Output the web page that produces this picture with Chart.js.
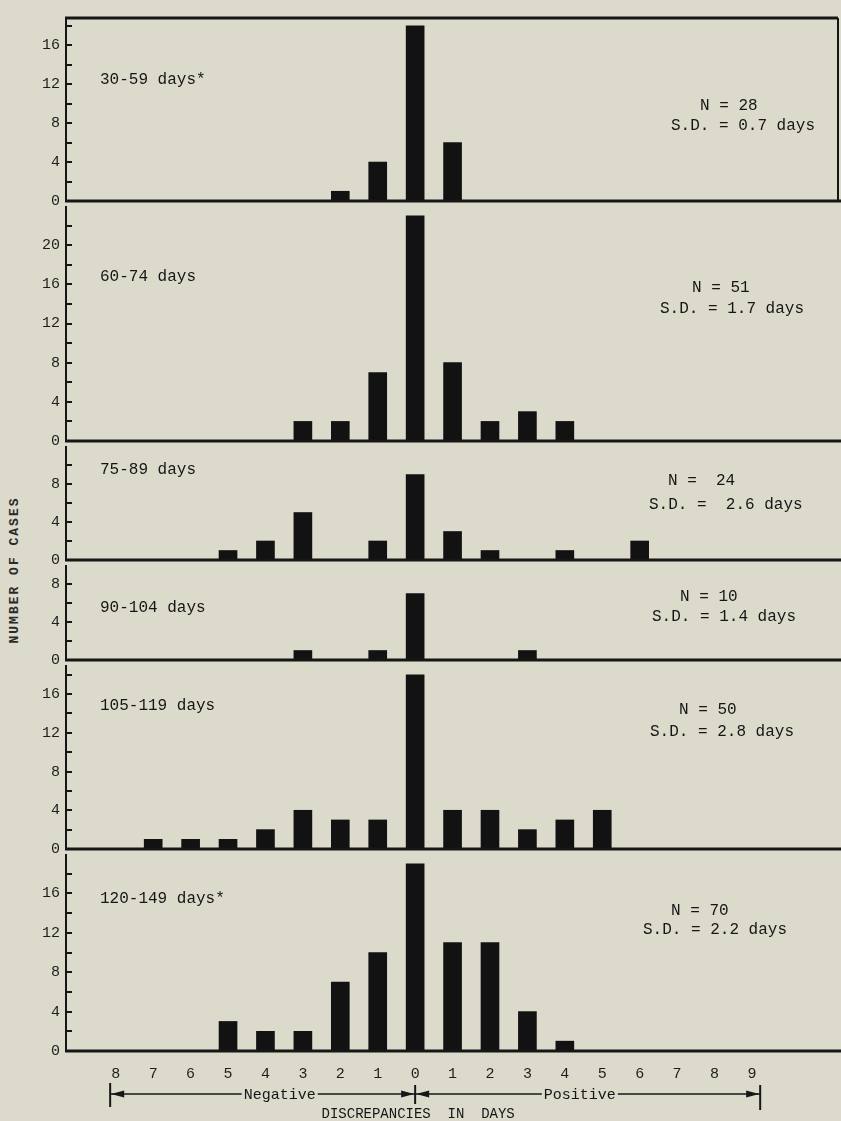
<!DOCTYPE html>
<html>
<head>
<meta charset="utf-8">
<script src="https://cdn.jsdelivr.net/npm/chart.js@4.4.1/dist/chart.umd.min.js"></script>
<style>
  body { margin: 0; background: #dcdacb; }
  #wrap { position: relative; width: 841px; height: 1121px; overflow: hidden; }
  #wrap canvas { position: absolute; left: 0; }
  #ytitle {
    position: absolute; left: 14px; top: 570px;
    transform: translate(-50%, -50%) rotate(-90deg);
    font: bold 13px "Liberation Mono", monospace; letter-spacing: 2px;
    color: #2a2a2a; white-space: nowrap;
  }
</style>
</head>
<body>
<div id="wrap">
  <div id="ytitle">NUMBER OF CASES</div>
</div>
<script>
// discrepancy in days, negative on the left
const days = [-8, -7, -6, -5, -4, -3, -2, -1, 0, 1, 2, 3, 4, 5, 6, 7, 8, 9];

const panelNames = ['30-59 days*', '60-74 days', '75-89 days', '90-104 days', '105-119 days', '120-149 days*'];
const nLabels = ['N = 28', 'N = 51', 'N =  24', 'N = 10', 'N = 50', 'N = 70'];
const sdLabels = ['S.D. = 0.7 days', 'S.D. = 1.7 days', 'S.D. =  2.6 days', 'S.D. = 1.4 days', 'S.D. = 2.8 days', 'S.D. = 2.2 days'];

// number of cases per discrepancy, one list per age group
const cases30to59   = [0, 0, 0, 0, 0, 0, 1, 4, 18, 6, 0, 0, 0, 0, 0, 0, 0, 0];
const cases60to74   = [0, 0, 0, 0, 0, 2, 2, 7, 23, 8, 2, 3, 2, 0, 0, 0, 0, 0];
const cases75to89   = [0, 0, 0, 1, 2, 5, 0, 2, 9, 3, 1, 0, 1, 0, 2, 0, 0, 0];
const cases90to104  = [0, 0, 0, 0, 0, 1, 0, 1, 7, 0, 0, 1, 0, 0, 0, 0, 0, 0];
const cases105to119 = [0, 1, 1, 1, 2, 4, 3, 3, 18, 4, 4, 2, 3, 4, 0, 0, 0, 0];
const cases120to149 = [0, 0, 0, 3, 2, 2, 7, 10, 19, 11, 11, 4, 1, 0, 0, 0, 0, 0];
const panelCounts = [cases30to59, cases60to74, cases75to89, cases90to104, cases105to119, cases120to149];

// layout (pixels) and axis ranges
const panelTop = [15, 204, 444, 563, 663, 852];
const panelBottom = [204, 444, 563, 663, 852, 1051];
const yMax = [18.8, 23.9, 11.9, 9.9, 18.9, 19.9];
const notes = [
  { title: 62, n: [700, 88], sd: [671, 108] },
  { title: 70, n: [692, 81], sd: [660, 102] },
  { title: 23, n: [668, 34], sd: [649, 58] },
  { title: 42, n: [680, 31], sd: [652, 51] },
  { title: 40, n: [679, 44], sd: [650, 66] },
  { title: 44, n: [671, 56], sd: [643, 75] }
];
const PAD = 12;
const INK = '#161616';
const BG = '#dcdacb';
const monoFont = '"Liberation Mono", monospace';

function line(ctx, x1, y1, x2, y2) {
  ctx.beginPath();
  ctx.moveTo(x1, y1);
  ctx.lineTo(x2, y2);
  ctx.stroke();
}

function arrowHead(ctx, tipX, y, dir) {
  ctx.beginPath();
  ctx.moveTo(tipX, y);
  ctx.lineTo(tipX - dir * 13, y - 3.5);
  ctx.lineTo(tipX - dir * 13, y + 3.5);
  ctx.closePath();
  ctx.fill();
}

// frame lines, inward ticks, notes and the discrepancy arrow
const panelDecor = {
  id: 'panelDecor',
  afterDraw(chart, args, opts) {
    const { ctx, chartArea } = chart;
    const xs = chart.scales.x, ys = chart.scales.y;
    const i = opts.index;
    ctx.save();
    ctx.strokeStyle = INK;
    ctx.fillStyle = INK;

    ctx.lineWidth = 2;
    ys.ticks.forEach(t => {
      if (t.value <= 0) return;
      const py = Math.round(ys.getPixelForValue(t.value));
      line(ctx, chartArea.left, py, chartArea.left + 6, py);
    });

    ctx.lineWidth = 3;
    const y0 = ys.getPixelForValue(0);
    line(ctx, chartArea.left - 1, y0, chart.width, y0);
    if (i === 0) {
      line(ctx, chartArea.left - 1, chartArea.top, chart.width - 3, chartArea.top);
      ctx.lineWidth = 2;
      line(ctx, chart.width - 3, chartArea.top, chart.width - 3, y0);
    }

    const nt = notes[i];
    ctx.font = '16px ' + monoFont;
    ctx.textBaseline = 'middle';
    ctx.textAlign = 'left';
    ctx.fillText(panelNames[i], chartArea.left + 34, chartArea.top + nt.title);
    ctx.fillText(nLabels[i], nt.n[0], chartArea.top + nt.n[1]);
    ctx.fillText(sdLabels[i], nt.sd[0], chartArea.top + nt.sd[1]);

    if (opts.last) {
      const ay = chartArea.bottom + 43;
      const xl = xs.getPixelForValue(-8.15);
      const xc = xs.getPixelForValue(0);
      const xr = xs.getPixelForValue(9.22);
      ctx.lineWidth = 1.5;
      line(ctx, xl, ay, xr, ay);
      ctx.lineWidth = 2;
      line(ctx, xl, ay - 11, xl, ay + 13);
      line(ctx, xc, ay - 9, xc, ay + 10);
      line(ctx, xr, ay - 9, xr, ay + 16);
      arrowHead(ctx, xl + 1, ay, -1);
      arrowHead(ctx, xc - 1, ay, 1);
      arrowHead(ctx, xc + 1, ay, -1);
      arrowHead(ctx, xr - 1, ay, 1);

      ctx.font = '15px ' + monoFont;
      ctx.textAlign = 'center';
      [['Negative', -3.62], ['Positive', 4.4]].forEach(([txt, v]) => {
        const px = xs.getPixelForValue(v);
        const w = ctx.measureText(txt).width + 4;
        ctx.fillStyle = BG;
        ctx.fillRect(px - w / 2, ay - 6, w, 12);
        ctx.fillStyle = INK;
        ctx.fillText(txt, px, ay + 1);
      });
      ctx.font = '14px ' + monoFont;
      ctx.fillText('DISCREPANCIES  IN  DAYS', xs.getPixelForValue(0.08), chartArea.bottom + 63);
    }
    ctx.restore();
  }
};

function makePanel(i) {
  const last = i === panelCounts.length - 1;
  const canvas = document.createElement('canvas');
  const top = panelTop[i] - PAD;
  const height = last ? 1121 - top : panelBottom[i] - panelTop[i] + 2 * PAD;
  canvas.width = 841;
  canvas.height = height;
  canvas.style.top = top + 'px';
  document.getElementById('wrap').appendChild(canvas);

  const counts = panelCounts[i];
  new Chart(canvas, {
    type: 'bar',
    data: {
      datasets: [{
        data: days.map((d, k) => ({ x: d, y: counts[k] })),
        backgroundColor: '#121212',
        borderWidth: 0,
        barThickness: 18
      }]
    },
    options: {
      responsive: false,
      animation: false,
      devicePixelRatio: 1,
      layout: { padding: { top: PAD, bottom: last ? 0 : PAD, left: 0, right: 0 } },
      plugins: {
        legend: { display: false },
        tooltip: { enabled: false },
        panelDecor: { index: i, last: last }
      },
      scales: {
        x: {
          type: 'linear',
          min: -8.785,
          max: 10.835,
          display: last,
          grid: { display: false, drawTicks: false },
          border: { display: false },
          ticks: {
            stepSize: 1,
            includeBounds: false,
            autoSkip: false,
            maxRotation: 0,
            padding: 14,
            color: '#1e1e1e',
            font: { family: monoFont, size: 15 },
            callback: v => (Number.isInteger(v) && v >= -8 && v <= 9) ? String(Math.abs(v)) : ''
          },
          afterFit: s => { if (last) s.height = 70; }
        },
        y: {
          min: 0,
          max: yMax[i],
          grid: { display: false, drawTicks: false },
          border: { display: true, color: INK, width: 2 },
          ticks: {
            stepSize: 2,
            includeBounds: false,
            padding: 6,
            color: '#1e1e1e',
            font: { family: monoFont, size: 15 },
            callback: v => (v % 4 === 0 ? String(v) : '')
          },
          afterFit: s => { s.width = 66; }
        }
      }
    },
    plugins: [panelDecor]
  });
}

panelCounts.forEach((c, i) => makePanel(i));
</script>
</body>
</html>
